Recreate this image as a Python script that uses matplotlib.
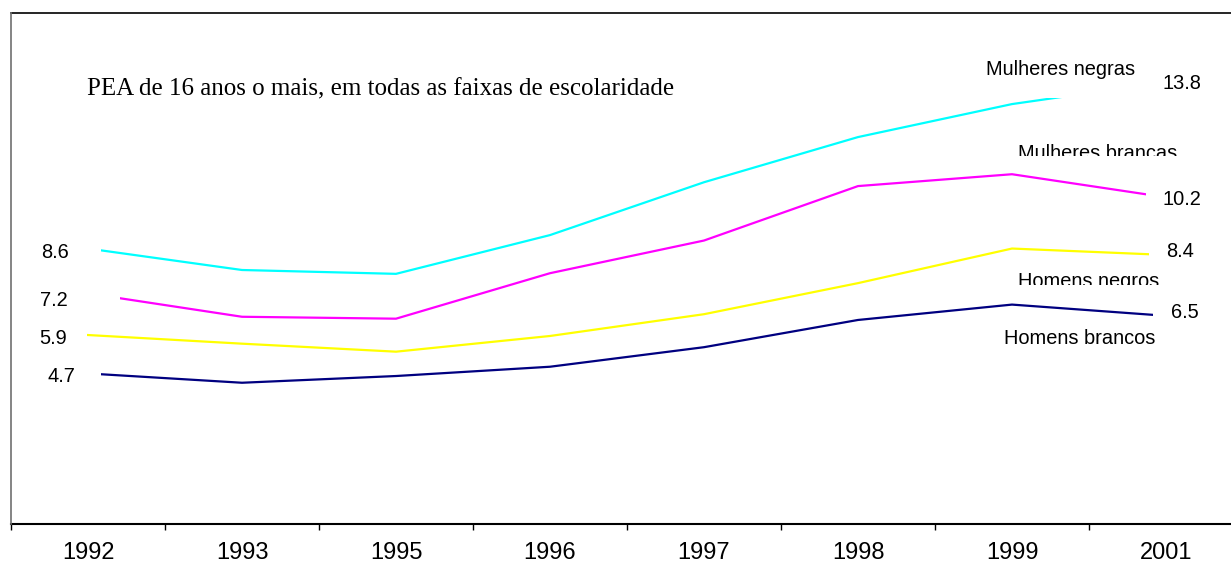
import matplotlib
matplotlib.use("Agg")
import matplotlib.pyplot as plt
from matplotlib.lines import Line2D
from matplotlib.transforms import Bbox, TransformedBbox

# data
anos = ["1992", "1993", "1995", "1996", "1997", "1998", "1999", "2001"]
mulheres_negras = [8.6, 7.93, 7.81, 9.02, 10.67, 12.08, 13.11, 13.8]
mulheres_brancas = [7.2, 6.47, 6.41, 7.83, 8.85, 10.55, 10.92, 10.2]
homens_negros = [5.9, 5.63, 5.38, 5.87, 6.55, 7.52, 8.6, 8.4]
homens_brancos = [4.7, 4.41, 4.62, 4.91, 5.52, 6.37, 6.85, 6.5]

W, H = 1231, 565
fig = plt.figure(figsize=(W / 100, H / 100), dpi=100)
plt.rcParams['font.family'] = ['Liberation Sans', 'DejaVu Sans']

# axes placed in pixels: x from 11 to 1243 (goes past the right edge), y from 98 to 524
ax = fig.add_axes([11 / W, (H - 524) / H, 1232 / W, (524 - 98) / H])
ax.set_xlim(-0.5, len(anos) - 0.5)
ax.set_ylim(0, 13.3)


def clip_x(artist, left_px, right_px):
    # the original drawing trims the ends of the lines a little
    artist.set_clip_box(TransformedBbox(Bbox([[left_px / W, 0], [right_px / W, 1]]),
                                        fig.transFigure))


x = list(range(len(anos)))
l1, = ax.plot(x, mulheres_negras, color='#00FFFF', lw=1.6)
l2, = ax.plot(x, mulheres_brancas, color='#FF00FF', lw=1.6)
l3, = ax.plot(x, homens_negros, color='#FFFF00', lw=1.6)
l4, = ax.plot(x, homens_brancos, color='#000080', lw=1.6)
# keep the top clip of the axes for the cyan line
l1.set_clip_box(TransformedBbox(Bbox([[101 / W, 0], [1, 1 - 98 / H]]), fig.transFigure))
clip_x(l2, 120, 1146)
clip_x(l3, 87, 1149)
clip_x(l4, 101, 1153)

# axis styling: only the bottom line, ticks between categories
for s in ['top', 'right', 'left']:
    ax.spines[s].set_visible(False)
ax.spines['bottom'].set_linewidth(1.5)
ax.set_yticks([])
ax.set_xticks([i - 0.5 for i in range(len(anos))])
ax.set_xticklabels([])
ax.tick_params(axis='x', which='major', direction='out', length=4, width=1)
ax.set_xticks(x, minor=True)
ax.set_xticklabels(anos, minor=True, fontsize=17)
ax.tick_params(axis='x', which='minor', length=0, pad=13)

# outer frame (top and left)
fig.add_artist(Line2D([11 / W, 1.0], [1 - 13 / H, 1 - 13 / H], transform=fig.transFigure,
                      color='black', lw=1.2))
fig.add_artist(Line2D([11 / W, 11 / W], [1 - 13 / H, (H - 524) / H], transform=fig.transFigure,
                      color='#707070', lw=1.2))

fig.text(87 / W, 1 - 89 / H, "PEA de 16 anos o mais, em todas as faixas de escolaridade",
         family='Liberation Serif', fontsize=18, va='center', ha='left')


def label(txt, xi, yi, dx, dy, clip_below=None):
    a = ax.annotate(txt, xy=(xi, yi), xytext=(dx, dy), textcoords='offset pixels',
                    fontsize=14.4, ha='left', va='center', annotation_clip=False)
    if clip_below is not None:
        a.set_clip_box(TransformedBbox(Bbox([[0, 1 - clip_below / H], [1, 1]]), fig.transFigure))
        a.set_clip_on(True)
    return a


last = len(anos) - 1
# start values
label(f"{mulheres_negras[0]}", 0, mulheres_negras[0], -47, -4)
label(f"{mulheres_brancas[0]}", 0, mulheres_brancas[0], -48, -7)
label(f"{homens_negros[0]}", 0, homens_negros[0], -49, -3)
label(f"{homens_brancos[0]}", 0, homens_brancos[0], -41, -3)
# end values
label(f"{mulheres_negras[last]}", last, mulheres_negras[last], -4, -2)
label(f"{mulheres_brancas[last]}", last, mulheres_brancas[last], -4, -2)
label(f"{homens_negros[last]}", last, homens_negros[last], 0, 3)
label(f"{homens_brancos[last]}", last, homens_brancos[last], 5, 3)
# series names
label("Mulheres negras", last, mulheres_negras[last], -180, 12)
label("Mulheres brancas", last, mulheres_brancas[last], -148, 44, clip_below=156)
label("Homens negros", last, homens_negros[last], -148, -27, clip_below=285)
label("Homens brancos", last, homens_brancos[last], -162, -23)

fig.savefig("out.png", dpi=100)
